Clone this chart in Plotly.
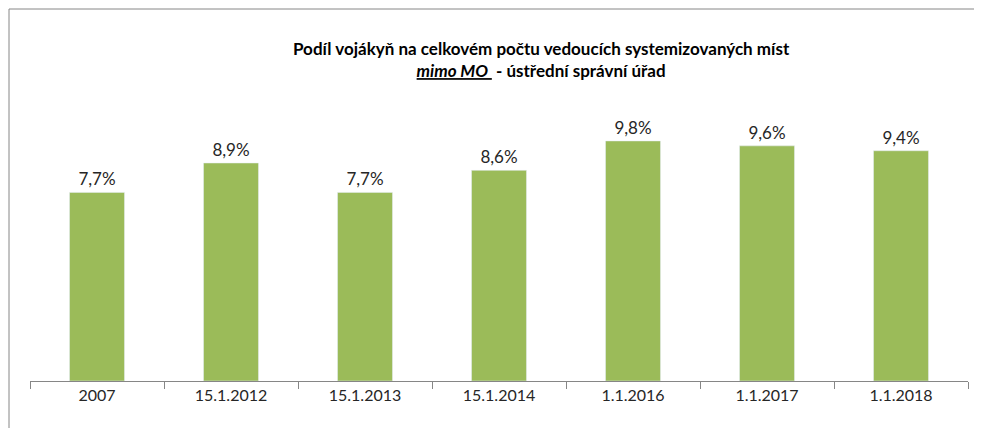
import plotly.graph_objects as go

categories = ["2007", "15.1.2012", "15.1.2013", "15.1.2014", "1.1.2016", "1.1.2017", "1.1.2018"]
values = [7.7, 8.9, 7.7, 8.6, 9.8, 9.6, 9.4]
labels = ["7,7%", "8,9%", "7,7%", "8,6%", "9,8%", "9,6%", "9,4%"]

L, R, T, B = 22, 22, 95, 55
PW, PH = 982 - L - R, 428 - T - B

fig = go.Figure(go.Bar(
    x=categories, y=values, text=labels, textposition="outside",
    marker_color="#9BBB59", width=0.41,
    textfont=dict(size=17, color="#262626", family="Lato"), cliponaxis=False))

fig.update_layout(
    width=982, height=428, paper_bgcolor="white", plot_bgcolor="white",
    margin=dict(l=L, r=R, t=T, b=B, autoexpand=False), showlegend=False,
    font=dict(family="Lato", color="#262626"),
    uniformtext=dict(minsize=8),
    xaxis=dict(showline=True, linecolor="#868686", ticks="outside", tickson="boundaries",
               ticklen=7, tickcolor="#868686", tickfont=dict(size=16, color="#262626")),
    yaxis=dict(range=[0, 11.35], visible=False),
    annotations=[dict(
        text="<b>Podíl vojákyň na celkovém počtu vedoucích systemizovaných míst</b><br><b><i><u>mimo MO </u></i> - ústřední správní úřad</b>",
        x=(533 - L) / PW, y=1 + (T - 28) / PH, xref="paper", yref="paper", showarrow=False,
        xanchor="center", yanchor="top", font=dict(size=17, color="black"))],
    shapes=[dict(type="rect", xref="paper", yref="paper",
                 x0=(1 - L) / PW, x1=(982 - L - 1) / PW,
                 y0=-(B - 1) / PH, y1=1 + (T - 1) / PH,
                 line=dict(color="#868686", width=1))],
)
fig.write_html("out.html")
